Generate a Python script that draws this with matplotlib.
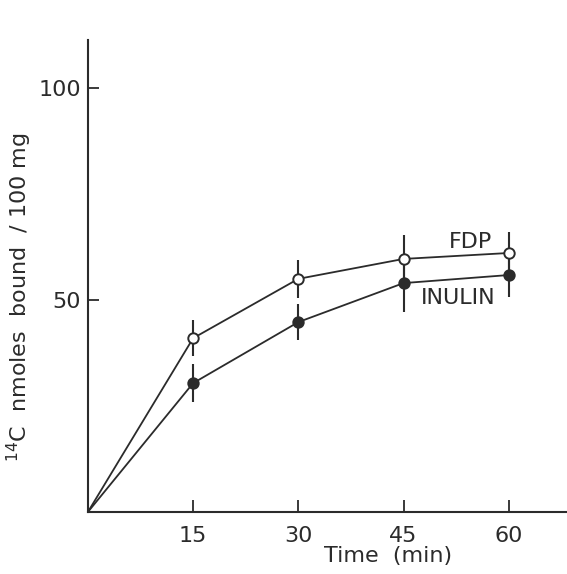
import matplotlib
matplotlib.use('Agg')
import matplotlib.pyplot as plt

# values
time = [0, 15, 30, 45, 60]
fdp = [0, 41.0, 55.0, 59.7, 61.1]
fdp_err = [0, 4.2, 4.5, 5.7, 5.0]
inulin = [0, 30.4, 44.8, 54.0, 55.9]
inulin_err = [0, 4.5, 4.3, 6.8, 5.2]

ink = '#2b2b2b'
plt.rcParams['font.family'] = ['DejaVu Sans']

fig = plt.figure(figsize=(5.67, 5.74), dpi=100)
ax = fig.add_axes([0.155, 0.108, 0.845, 0.822])

ax.errorbar(time[1:], fdp[1:], yerr=fdp_err[1:], fmt='none', ecolor=ink, elinewidth=1.5, capsize=0)
ax.errorbar(time[1:], inulin[1:], yerr=inulin_err[1:], fmt='none', ecolor=ink, elinewidth=1.5, capsize=0)
ax.plot(time, fdp, color=ink, lw=1.3, zorder=3)
ax.plot(time, inulin, color=ink, lw=1.3, zorder=3)
ax.plot(time[1:], fdp[1:], 'o', ms=7.5, mfc='white', mec=ink, mew=1.4, zorder=4)
ax.plot(time[1:], inulin[1:], 'o', ms=7.5, mfc=ink, mec=ink, mew=1.4, zorder=4)

ax.set_xlim(0, 68.3)
ax.set_ylim(0, 111.3)
ax.set_xticks([15, 30, 45, 60])
ax.set_yticks([50, 100])
ax.tick_params(axis='x', direction='in', length=9, width=1.3, colors=ink, labelsize=16, pad=10)
ax.tick_params(axis='y', direction='in', length=8, width=1.3, colors=ink, labelsize=16, pad=5)
for s in ['top', 'right']:
    ax.spines[s].set_visible(False)
for s in ['left', 'bottom']:
    ax.spines[s].set_color(ink)
    ax.spines[s].set_linewidth(1.5)

ax.text(0.626, -0.094, 'Time  (min)', transform=ax.transAxes, ha='center', va='center', fontsize=16, color=ink)
ax.text(-0.142, 0.455, '$^{14}$C  nmoles  bound  / 100 mg', transform=ax.transAxes,
        rotation=90, ha='center', va='center', fontsize=16, color=ink)

ax.text(54.6, 63.7, 'FDP', ha='center', va='center', fontsize=16, color=ink)
ax.text(52.8, 50.5, 'INULIN', ha='center', va='center', fontsize=16, color=ink)

fig.savefig('out.png', dpi=100, facecolor='white')
